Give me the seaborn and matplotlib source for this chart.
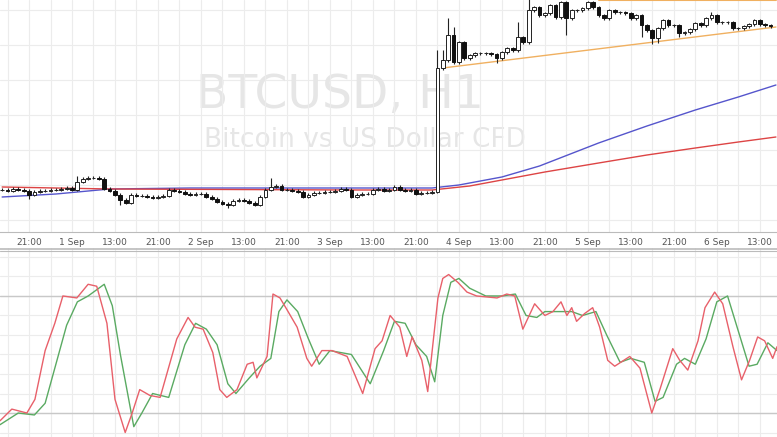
import numpy as np
import pandas as pd
import matplotlib
matplotlib.use('Agg')
import matplotlib.pyplot as plt
import seaborn as sb

# hourly closes, candle index -5 .. 138
closes = [42, 41, 43, 42, 41, 37, 40, 41, 41, 42, 42, 43, 44, 42, 50, 53, 54, 54, 53, 43,
          41, 37, 32, 29, 37, 36, 36, 35, 34, 35, 36, 42, 41, 40, 38, 37, 38, 38, 35, 33,
          30, 28, 27, 31, 32, 31, 29, 27, 35, 42, 45, 46, 42, 42, 41, 40, 35, 37, 39, 39,
          40, 40, 41, 43, 42, 35, 37, 38, 38, 42, 43, 41, 42, 45, 42, 41, 42, 38, 39, 39,
          40,
          164, 172, 197, 170, 190, 174, 177, 179, 179, 179, 178, 174, 180, 184, 182, 195,
          190, 222, 225, 217, 219, 227, 215, 230, 214, 222, 222, 224, 230, 225, 217, 214,
          222, 220, 220, 219, 214, 217, 207, 202, 194, 204, 212, 207, 207, 199, 200, 203,
          209, 207, 214, 217, 210, 210, 210, 204, 204, 206, 208, 212, 208, 207, 206]
first_open = 42
# notable wicks (index: extreme)
highs_extra = {9: 56, 45: 54, 76: 182, 77: 182, 78: 214, 79: 205, 91: 210, 93: 235, 127: 220}
lows_extra = {0: 33, 17: 27, 37: 24, 87: 169, 100: 197, 114: 195, 116: 188, 117: 189, 121: 195}

ma_blue_x = [-5, 5, 15, 30, 60, 75, 80, 88, 95, 106, 115, 124, 132, 139]
ma_blue_y = [35, 38, 43, 44, 44, 44, 47, 55, 66, 89, 106, 122, 135, 147]
ma_red_x = [-5, 15, 60, 75, 82, 88, 96, 106, 115, 124, 132, 139]
ma_red_y = [45, 43, 42, 42, 46, 52, 60, 69, 77, 84, 90, 95]
trend_x = [77, 139]
trend_y = [164, 205]
top_x = [106, 139]
top_y = [232, 232]

tick_labels = ['21:00', '1 Sep', '13:00', '21:00', '2 Sep', '13:00', '21:00', '3 Sep', '13:00',
               '21:00', '4 Sep', '13:00', '21:00', '5 Sep', '13:00', '21:00', '6 Sep', '13:00']

k_x = [-5.4, -3.2, -0.4, 1.1, 3, 4.8, 6.3, 8.9, 11, 12.6, 14.5, 16, 17.9, 19.2, 20.6, 22.5, 24.4,
       27.5, 29.6, 30.9, 32.4, 34.2, 35.5, 36.8, 38.7, 40.6, 41.7, 42.4, 44.3, 45.4, 46.7, 48,
       49.9, 51.7, 52.6, 54.5, 56.4, 59.2, 62.1, 64.4, 65.7, 67.2, 69, 70.3, 71.3, 73.1, 74.2,
       76.1, 77, 78.1, 79.8, 81.5, 83.3, 87.1, 88.9, 90.4, 91.9, 94.1, 96, 97.5, 99, 100.1, 101,
       101.9, 103.4, 104.9, 106.2, 107.7, 109, 111.8, 113.7, 115.9, 117.4, 119.8, 121.1, 122.6,
       124.5, 125.8, 127.6, 129.1, 131, 132.6, 134.1, 135.6, 136.9, 138.4, 139.2]
k_y = [16, 22, 20, 27, 52, 66, 80, 79, 86, 85, 66, 27, 10, 20, 32, 29, 28,
       58, 69, 64, 63, 51, 32, 28, 32, 45, 46, 38, 49, 81, 79, 73,
       64, 48, 44, 52, 52, 49, 30, 53, 57, 70, 64, 49, 59, 47, 31,
       79, 89, 91, 87, 82, 80, 79, 81, 80, 63, 76, 70, 72, 77, 70, 74,
       67, 71, 74, 64, 47, 44, 49, 43, 20, 32, 53, 47, 42,
       57, 74, 82, 76, 54, 37, 47, 59, 57, 48, 54]
d_x = [-5.4, -2, 1, 3, 5, 7, 9, 11, 14, 15.5, 17, 19.5, 21, 23, 26, 29, 31, 33, 35, 37, 38.5,
       41, 43, 45, 46.5, 48, 50, 52, 54, 56, 60, 63.5, 66, 68, 70, 72, 74, 75.5, 77, 78.5, 80,
       82, 85, 88, 90.5, 92.5, 94.5, 96, 98, 101, 103, 105.5, 107.5, 110, 112, 114.5, 116.5,
       118, 120.5, 122, 124, 126, 128, 130, 132, 134, 135.5, 137.5, 139.2]
d_y = [14, 20, 19, 25, 45, 65, 77, 80, 86, 75, 50, 13, 20, 30, 28, 55, 66, 63, 55, 35, 30,
       38, 44, 48, 72, 78, 72, 58, 45, 52, 50, 35, 52, 67, 66, 55, 49, 36, 70, 87, 89,
       84, 80, 80, 81, 70, 69, 72, 72, 72, 70, 72, 60, 46, 48, 46, 26,
       28, 45, 48, 45, 58, 77, 80, 62, 44, 45, 56, 52]

idx = np.arange(-5, -5 + len(closes))
opens = [first_open] + closes[:-1]
df = pd.DataFrame({'i': idx, 'open': opens, 'close': closes})
df['high'] = df[['open', 'close']].max(axis=1) + 1.5
df['low'] = df[['open', 'close']].min(axis=1) - 1.5
for k, v in highs_extra.items():
    df.loc[df.i == k, 'high'] = v
for k, v in lows_extra.items():
    df.loc[df.i == k, 'low'] = v

sb.set_style('white')
fig = plt.figure(figsize=(7.77, 4.37), dpi=100)
ax1 = fig.add_axes([0, 1 - 232 / 437, 1, 232 / 437])
ax2 = fig.add_axes([0, 0, 1, 189 / 437])
xlim = (-5.4, 139.2)

grid_c = '#ececec'
for ax in (ax1, ax2):
    ax.set_xlim(*xlim)
    ax.set_xticks(np.arange(0, 137, 8))
    ax.set_xticks(np.arange(-4, 139, 4), minor=True)
    ax.grid(True, which='both', axis='x', color=grid_c, lw=0.8)
    for s in ax.spines.values():
        s.set_visible(False)
    ax.set_yticks([])

ax1.set_ylim(0, 232)
for yy in np.arange(12, 232, 35):
    ax1.axhline(yy, color=grid_c, lw=0.8, zorder=0)
ax1.set_xticklabels(tick_labels)
ax1.tick_params(axis='x', labelsize=6.5, colors='#555555', length=3, pad=1, which='both')
ax1.tick_params(axis='x', which='minor', length=2)
ax1.spines['bottom'].set_visible(True)
ax1.spines['bottom'].set_color('#bbbbbb')

ax1.text(0.437, 0.59, 'BTCUSD, H1', transform=ax1.transAxes, ha='center', va='center',
         fontsize=34, color='#e6e6e6', zorder=0)
ax1.text(0.47, 0.395, 'Bitcoin vs US Dollar CFD', transform=ax1.transAxes, ha='center',
         va='center', fontsize=19, color='#e6e6e6', zorder=0)

sb.lineplot(x=ma_blue_x, y=ma_blue_y, ax=ax1, color='#5555cc', lw=1)
sb.lineplot(x=ma_red_x, y=ma_red_y, ax=ax1, color='#dd4444', lw=1)
sb.lineplot(x=trend_x, y=trend_y, ax=ax1, color='#f0b060', lw=1)
sb.lineplot(x=top_x, y=top_y, ax=ax1, color='#f0b060', lw=1.5)

ax1.vlines(df.i, df.low, df.high, color='#222222', lw=0.8, zorder=3)
up = df.close >= df.open
ax1.bar(df.i[up], (df.close - df.open)[up], bottom=df.open[up], width=0.7,
        color='white', edgecolor='#222222', lw=0.7, zorder=4)
ax1.bar(df.i[~up], (df.close - df.open)[~up], bottom=df.open[~up], width=0.7,
        color='#111111', edgecolor='#111111', lw=0.7, zorder=4)

ax2.set_ylim(7.7, 104.6)
ax2.set_xticklabels([])
ax2.tick_params(axis='x', length=0, which='both')
for yy in np.arange(10, 101, 10):
    ax2.axhline(yy, color=grid_c, lw=0.8, zorder=0)
ax2.axhline(20, color='#c8c8c8', lw=1)
ax2.axhline(80, color='#c8c8c8', lw=1)
ax2.axhline(104, color='#bbbbbb', lw=1.2)
ax2.axhline(103.2, color='#bbbbbb', lw=0.8)
sb.lineplot(x=d_x, y=d_y, ax=ax2, color='#5aaa62', lw=1)
sb.lineplot(x=k_x, y=k_y, ax=ax2, color='#e8606a', lw=1)

fig.savefig('out.png', dpi=100)
